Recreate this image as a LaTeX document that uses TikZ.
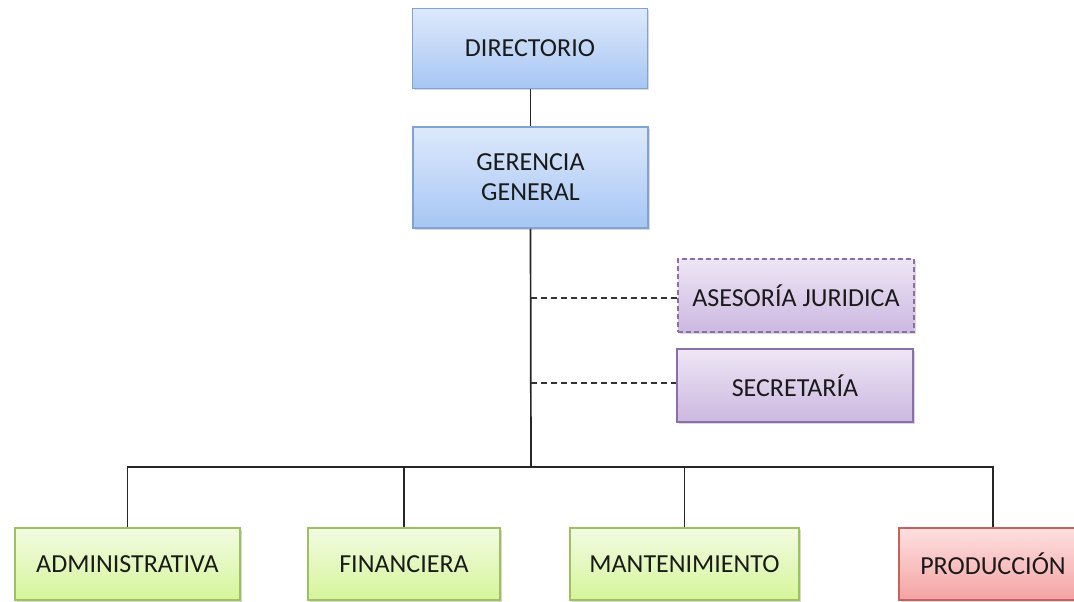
\documentclass[tikz,border=0pt]{standalone}
\usepackage{fontspec}
\setmainfont{Carlito}
\usetikzlibrary{shadows}
\definecolor{blueT}{HTML}{DDE9FB}
\definecolor{blueB}{HTML}{A7C6F4}
\definecolor{blueD}{HTML}{7EA3D4}
\definecolor{purT}{HTML}{EEE6F5}
\definecolor{purB}{HTML}{CCB8E0}
\definecolor{purD}{HTML}{8A6FAE}
\definecolor{grnT}{HTML}{F2FBE2}
\definecolor{grnB}{HTML}{D5F59A}
\definecolor{grnD}{HTML}{9DC15E}
\definecolor{redT}{HTML}{FEE0E0}
\definecolor{redB}{HTML}{F4A3A3}
\definecolor{redD}{HTML}{C9605D}
\definecolor{txt}{HTML}{1A1A1A}
\tikzset{
  box/.style={rectangle, line width=1.5pt, align=center, text=txt,
    font=\fontsize{26}{30}\selectfont, inner sep=0pt,
    drop shadow={opacity=0.3, shadow xshift=1.5pt, shadow yshift=-1.5pt}},
  bluebox/.style={box, draw=blueD, top color=blueT, bottom color=blueB},
  purbox/.style={box, draw=purD, top color=purT, bottom color=purB},
  grnbox/.style={box, draw=grnD, top color=grnT, bottom color=grnB},
  redbox/.style={box, draw=redD, top color=redT, bottom color=redB},
  link/.style={line width=1.7pt, draw=black!85},
  dlink/.style={line width=1.3pt, draw=black!80, dash pattern=on 6pt off 4pt}
}
\begin{document}
\begin{tikzpicture}[x=1pt,y=-1pt]
\useasboundingbox (0,0) rectangle (1074,602);
\fill[white] (0,0) rectangle (1074,602);
\node[bluebox, minimum width=235pt, minimum height=80pt] (dir) at (530,48.5) {DIRECTORIO};
\node[bluebox, minimum width=235pt, minimum height=101pt] (ger) at (530.5,177.5) {GERENCIA\\GENERAL};
\node[purbox, dash pattern=on 5pt off 3pt, minimum width=236pt, minimum height=73pt] (ase) at (796,295.5) {ASESORÍA JURIDICA};
\node[purbox, minimum width=236pt, minimum height=73pt] (sec) at (795,385.5) {SECRETARÍA};
\node[grnbox, minimum width=225pt, minimum height=72pt] (adm) at (127.5,564) {ADMINISTRATIVA};
\node[grnbox, minimum width=192pt, minimum height=72pt] (fin) at (404,564) {FINANCIERA};
\node[grnbox, minimum width=229pt, minimum height=72pt] (man) at (684.5,564) {MANTENIMIENTO};
\node[redbox, minimum width=188pt, minimum height=72pt] (pro) at (993,564) {PRODUCCIÓN};
\coordinate (bus) at (531,467);
\coordinate (d1) at (531,298);
\coordinate (d2) at (531,383);
\draw[link] (dir.south -| ger.north) -- (ger.north);
\draw[link] (ger.south) -- (bus);
\draw[link] (bus) -| (adm.north);
\draw[link] (bus) -| (fin.north);
\draw[link] (bus) -| (man.north);
\draw[link] (bus) -| (pro.north);
\draw[dlink] (d1) -- (d1 -| ase.west);
\draw[dlink] (d2) -- (d2 -| sec.west);
\end{tikzpicture}
\end{document}
